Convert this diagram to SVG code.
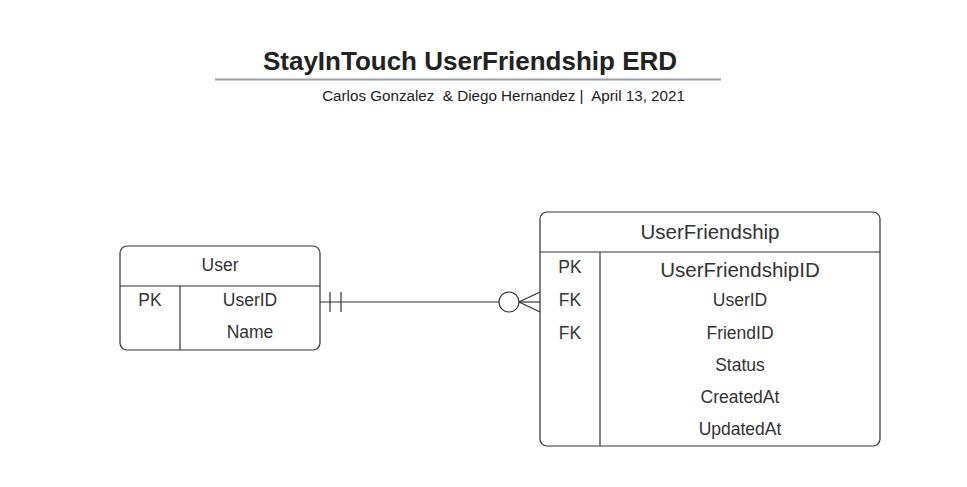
<svg xmlns="http://www.w3.org/2000/svg" width="967" height="487" viewBox="0 0 967 487">
<style>
.box{fill:#fff;stroke:#333;stroke-width:1.2}
.ln{stroke:#333;stroke-width:1.2;fill:none}
.t{font-family:"Liberation Sans",Arial,sans-serif;fill:#333;text-anchor:middle}
.f16{font-size:17.5px}
.f19{font-size:20.5px}
</style>
<rect width="967" height="487" fill="#fff"/>
<g id="title">
<text class="t" x="470" y="70" style="font-size:26px;font-weight:bold;fill:#222">StayInTouch UserFriendship ERD</text>
<line x1="215" y1="79.5" x2="721" y2="79.5" stroke="#9aa0a8" stroke-width="2"/>
<text class="t" x="503.5" y="101" xml:space="preserve" style="font-size:15.2px;fill:#222;white-space:pre">Carlos Gonzalez  &amp; Diego Hernandez |  April 13, 2021</text>
</g>
<g id="connectors">
<line class="ln" x1="320" y1="302" x2="499" y2="302"/>
<line class="ln" x1="330" y1="292" x2="330" y2="312"/>
<line class="ln" x1="341" y1="292" x2="341" y2="312"/>
<circle class="ln" cx="509" cy="302" r="10"/>
<line class="ln" x1="519" y1="302" x2="540" y2="302"/>
<line class="ln" x1="519" y1="302" x2="540" y2="292"/>
<line class="ln" x1="519" y1="302" x2="540" y2="312"/>
</g>
<g id="User">
<rect class="box" x="120" y="246" width="200" height="104" rx="7"/>
<line class="ln" x1="120" y1="286" x2="320" y2="286"/>
<line class="ln" x1="180" y1="286" x2="180" y2="350"/>
<text class="t f16" x="220" y="271">User</text>
<text class="t f16" x="150" y="306">PK</text>
<text class="t f16" x="250" y="306">UserID</text>
<text class="t f16" x="250" y="338">Name</text>
</g>
<g id="UserFriendship">
<rect class="box" x="540" y="212" width="340" height="234" rx="7"/>
<line class="ln" x1="540" y1="252" x2="880" y2="252"/>
<line class="ln" x1="600" y1="252" x2="600" y2="446"/>
<text class="t f19" x="710" y="239">UserFriendship</text>
<text class="t f16" x="570" y="273">PK</text>
<text class="t f19" x="740" y="277">UserFriendshipID</text>
<text class="t f16" x="570" y="306">FK</text>
<text class="t f16" x="740" y="306">UserID</text>
<text class="t f16" x="570" y="339">FK</text>
<text class="t f16" x="740" y="339">FriendID</text>
<text class="t f16" x="740" y="371">Status</text>
<text class="t f16" x="740" y="403">CreatedAt</text>
<text class="t f16" x="740" y="435">UpdatedAt</text>
</g>
</svg>
